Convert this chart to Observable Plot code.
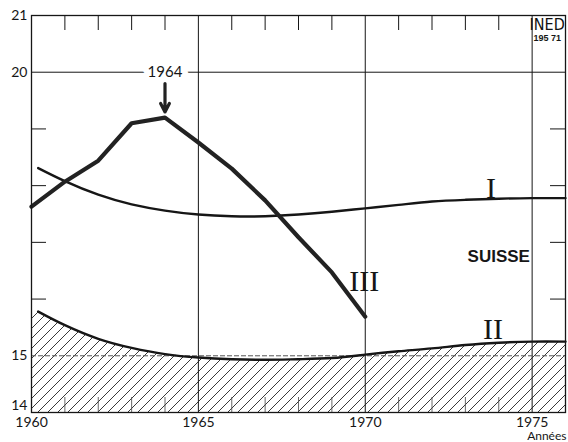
<!DOCTYPE html>
<html><head><meta charset="utf-8">
<script src="https://cdn.jsdelivr.net/npm/d3@7"></script>
<script src="https://cdn.jsdelivr.net/npm/@observablehq/plot@0.6"></script>
<style>
html,body{margin:0;padding:0;background:#fff;}
#chart svg{display:block;}
</style></head><body><div id="chart"></div>
<script>
// Curve I
const yearsI = [1960.2, 1961, 1962, 1963, 1964, 1965, 1966, 1967, 1968, 1969, 1970, 1971, 1972, 1973, 1974, 1975, 1976];
const valuesI = [18.31, 18.08, 17.84, 17.67, 17.56, 17.49, 17.46, 17.46, 17.49, 17.54, 17.60, 17.66, 17.72, 17.75, 17.77, 17.78, 17.78];
// Curve II (hatched below)
const yearsII = [1960, 1960.2, 1961, 1962, 1963, 1964, 1965, 1966, 1967, 1968, 1969, 1970, 1971, 1972, 1973, 1974, 1975, 1976];
const valuesII = [15.84, 15.78, 15.54, 15.30, 15.14, 15.03, 14.97, 14.94, 14.93, 14.94, 14.96, 15.02, 15.08, 15.13, 15.19, 15.23, 15.25, 15.25];
// Curve III (observed)
const yearsIII = [1960, 1961, 1962, 1963, 1964, 1965, 1966, 1967, 1968, 1969, 1970];
const valuesIII = [17.63, 18.07, 18.44, 19.10, 19.20, 18.76, 18.30, 17.74, 17.09, 16.47, 15.69];

// Axis ticks
const majorYears = [1960, 1965, 1970, 1975];
const minorYears = [1961, 1962, 1963, 1964, 1966, 1967, 1968, 1969, 1971, 1972, 1973, 1974];
const labeledY = [15, 20, 21];
const bottomY = [14];
const minorY = [16, 17, 18, 19];

// Annotations
const curveNames = ["I", "II", "III"];
const curveNameX = [1973.77, 1973.83, 1969.97];
const curveNameY = [17.79, 15.29, 16.15];
const countryName = "SUISSE";
const countryX = 1974.0, countryY = 16.75;
const peakLabel = "1964";
const peakYear = 1964, peakLabelY = 20, arrowFrom = 19.80, arrowTo = 19.30;
const xTitle = "Années";
const logoText = ["INED", "195 71"];
const logoX = 1975.45;
const logoY = [20.74, 20.665];

const I = yearsI.map((x, i) => ({x, y: valuesI[i]}));
const II = yearsII.map((x, i) => ({x, y: valuesII[i]}));
const III = yearsIII.map((x, i) => ({x, y: valuesIII[i]}));
const names = curveNames.map((t, i) => ({t, x: curveNameX[i], y: curveNameY[i]}));
const ink = "#161616";
const W = 568, H = 442, mL = 31, mR = 3, mT = 15, mB = 30;
const innerW = W - mL - mR, innerH = H - mT - mB;

const svg = Plot.plot({
  width: W, height: H,
  marginLeft: mL, marginRight: mR, marginTop: mT, marginBottom: mB,
  style: {fontFamily: "Lato, sans-serif", fontSize: "14px", background: "white", color: ink},
  x: {domain: [1960, 1976]},
  y: {domain: [14, 21]},
  marks: [
    Plot.areaY(II, {x: "x", y1: 14, y2: "y", fill: "url(#hatch)", curve: "natural"}),
    Plot.ruleX(majorYears.slice(1), {stroke: ink, strokeWidth: 1}),
    Plot.ruleY([20], {stroke: ink, strokeWidth: 1}),
    Plot.ruleY([15], {stroke: "#555", strokeWidth: 1, strokeDasharray: "5,2"}),
    // inner ticks
    Plot.tickY(minorY, {stroke: ink, strokeWidth: 1, insetRight: innerW - 15}),
    Plot.tickY(minorY, {stroke: ink, strokeWidth: 1, insetLeft: innerW - 15}),
    Plot.tickX(minorYears, {stroke: ink, strokeWidth: 1, insetBottom: innerH - 15}),
    Plot.tickX(minorYears, {stroke: "#444", strokeWidth: 0.8, insetTop: innerH - 15}),
    Plot.line(I.filter(d => d.x >= 1960.2), {x: "x", y: "y", stroke: ink, strokeWidth: 2.4, curve: "natural"}),
    Plot.line(II.filter(d => d.x >= 1960.2), {x: "x", y: "y", stroke: ink, strokeWidth: 2.4, curve: "natural"}),
    Plot.line(III, {x: "x", y: "y", stroke: "#222", strokeWidth: 4.2, strokeLinejoin: "round"}),
    Plot.text(names, {x: "x", y: "y", text: "t", lineAnchor: "bottom", fontFamily: "'Liberation Serif', 'DejaVu Serif', serif", fontSize: 30, fill: ink}),
    Plot.text([countryName], {x: countryX, y: countryY, fontFamily: "'Liberation Sans', Arial, sans-serif", fontWeight: "bold", fontSize: 17, fill: ink, ariaLabel: "country"}),
    Plot.text([peakLabel], {x: peakYear, y: peakLabelY, fontSize: 15, fill: ink, stroke: "white", strokeWidth: 12, paintOrder: "stroke"}),
    Plot.arrow([peakYear], {x: d => d, y1: arrowFrom, y2: arrowTo, stroke: "#222", strokeWidth: 3.2, headLength: 10, headAngle: 55}),
    Plot.text([logoText[0]], {x: logoX, y: logoY[0], lineAnchor: "bottom", fontFamily: "'Liberation Sans Narrow', 'DejaVu Sans Condensed', sans-serif", fontSize: 16, fill: "#111", ariaLabel: "ined"}),
    Plot.text([logoText[1]], {x: logoX, y: logoY[1], lineAnchor: "top", fontFamily: "'Liberation Sans', Arial, sans-serif", fontWeight: "bold", fontSize: 9, fill: ink}),
    Plot.text([xTitle], {frameAnchor: "bottom-right", textAnchor: "end", dx: 1, dy: 24, lineAnchor: "middle", fontSize: 12, fill: ink, ariaLabel: "xtitle"}),
    Plot.frame({stroke: ink, strokeWidth: 1.3}),
    Plot.axisX(majorYears, {anchor: "bottom", tickSize: 0, tickPadding: 5, tickFormat: d => String(d), fontSize: 14, label: null}),
    Plot.axisY(labeledY, {anchor: "left", tickSize: 0, tickPadding: 4, tickFormat: d => String(d), fontSize: 14, label: null}),
    Plot.axisY(bottomY, {anchor: "left", tickSize: 0, tickPadding: 4, dy: -7, tickFormat: d => String(d), fontSize: 14, label: null})
  ]
});

const defs = document.createElementNS("http://www.w3.org/2000/svg", "defs");
defs.innerHTML = '<pattern id="hatch" patternUnits="userSpaceOnUse" width="10" height="10"><path d="M-2,2 L2,-2 M0,10 L10,0 M8,12 L12,8" stroke="#222" stroke-width="0.9"/></pattern>';
svg.insertBefore(defs, svg.firstChild);
d3.select(svg).selectAll('g[aria-label="ined"] text').attr("textLength", 21).attr("lengthAdjust", "spacingAndGlyphs");
d3.select(svg).selectAll('g[aria-label="country"] text').style("letter-spacing", "1.5px");
d3.select(svg).selectAll('g[aria-label="xtitle"] text').style("letter-spacing", "1.5px");
document.getElementById("chart").appendChild(svg);
</script>
</body></html>
